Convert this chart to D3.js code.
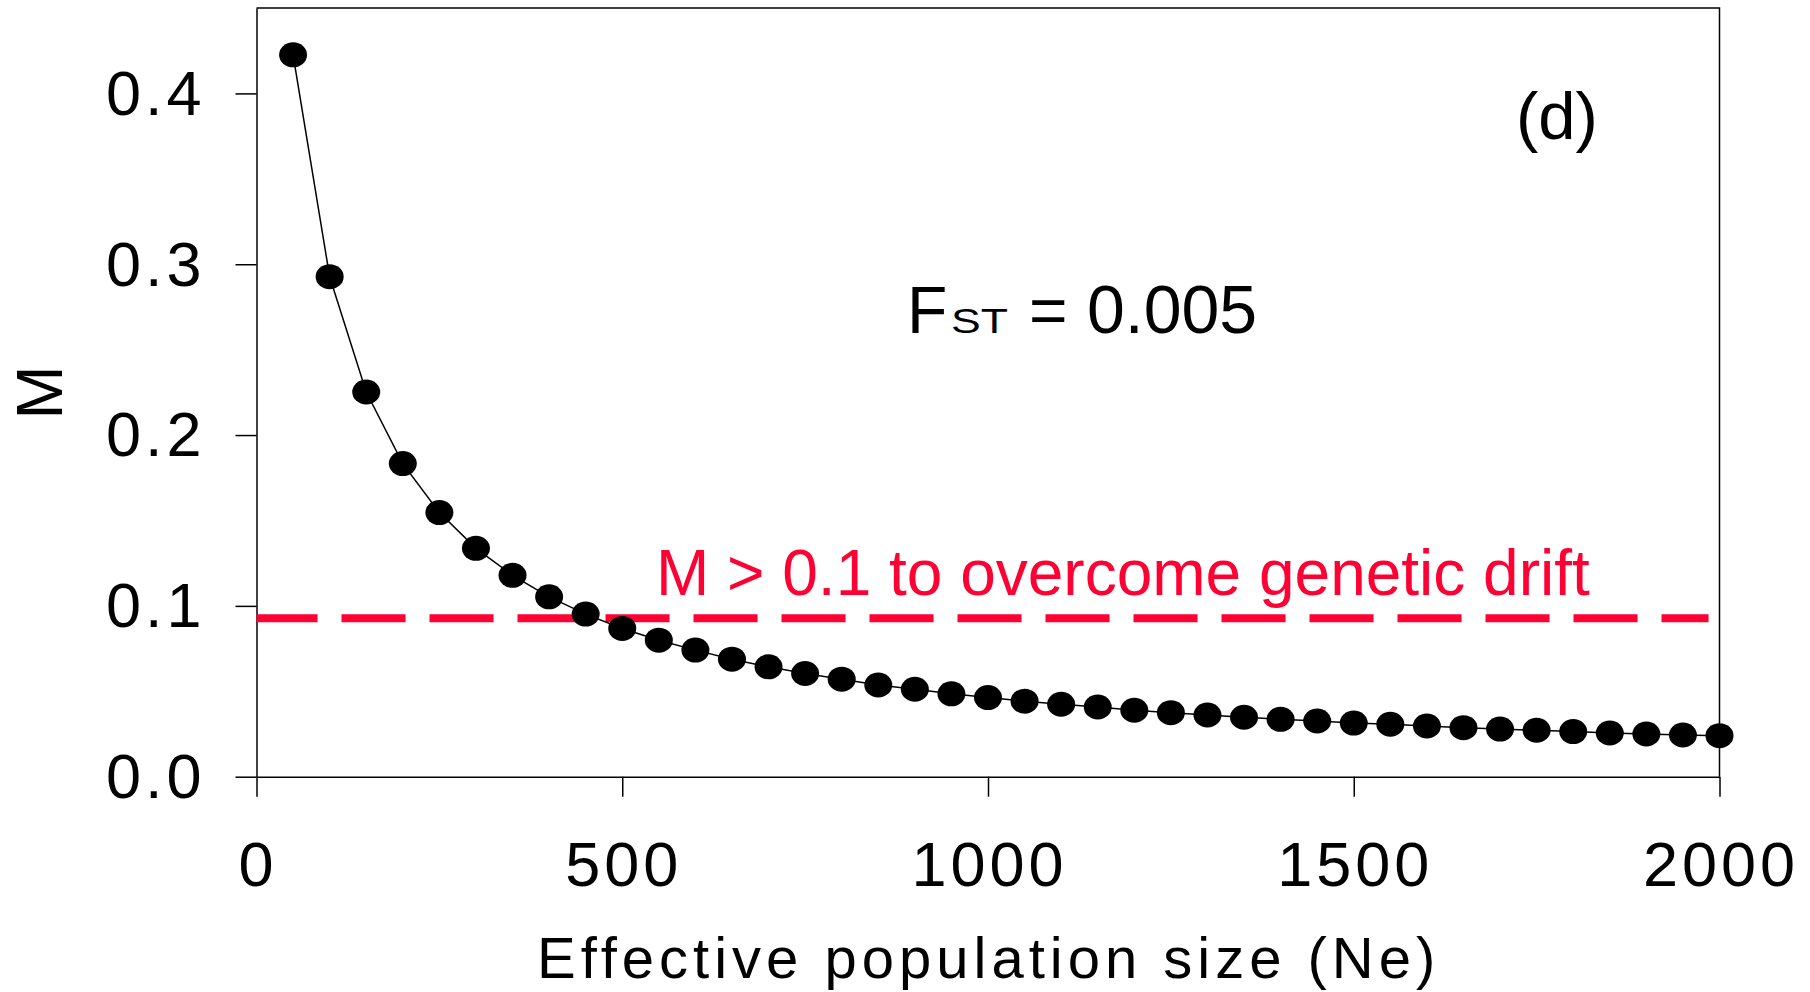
<!DOCTYPE html>
<html>
<head>
<meta charset="utf-8">
<script src="https://cdn.jsdelivr.net/npm/d3@7"></script>
<style>
  body { margin: 0; background: #fff; }
  text { font-family: "Liberation Sans", Arial, sans-serif; }
</style>
</head>
<body>
<div id="chart"></div>
<script>
// effective population size (x) and migration M (y)
var ne = [50, 100, 150, 200, 250, 300, 350, 400, 450, 500,
          550, 600, 650, 700, 750, 800, 850, 900, 950, 1000,
          1050, 1100, 1150, 1200, 1250, 1300, 1350, 1400, 1450, 1500,
          1550, 1600, 1650, 1700, 1750, 1800, 1850, 1900, 1950, 2000];
var m = [0.4226, 0.2927, 0.2252, 0.1833, 0.1546, 0.1337, 0.1179, 0.1053, 0.0952, 0.0868,
         0.0799, 0.0741, 0.0688, 0.0643, 0.0604, 0.0571, 0.0537, 0.0512, 0.0485, 0.0463,
         0.0442, 0.0424, 0.0408, 0.0389, 0.0375, 0.0361, 0.0348, 0.0336, 0.0326, 0.0314,
         0.0307, 0.0297, 0.0287, 0.0279, 0.0272, 0.0264, 0.0256, 0.0250, 0.0244, 0.0240];
var xTicks = [0, 500, 1000, 1500, 2000];
var yTicks = [0.0, 0.1, 0.2, 0.3, 0.4];
// drawn threshold line (as plotted) and its extent along x
var threshold = 0.0927;
var thresholdSpan = [0, 1985];

var drawGraph = function(){

    var red = "#ff0033";
    var width = 1810, height = 992;
    var left = 256.5, right = 1719.5, top = 8, bottom = 776.7;

    var svg = d3.select("#chart")
        .append("svg")
        .attr("width", width)
        .attr("height", height);

    var x = d3.scaleLinear().domain([0, 2000]).range([left, right]);
    var y = d3.scaleLinear().domain([0, 0.45]).range([bottom, top]);

    // frame: top and right edges
    svg.append("path")
        .attr("d", "M" + left + "," + top + "H" + right + "V" + bottom)
        .attr("fill", "none")
        .attr("stroke", "#000")
        .attr("stroke-width", 1.5);

    var yAxis = svg.append("g")
        .attr("transform", "translate(" + left + ",0)")
        .call(d3.axisLeft(y).tickValues(yTicks).tickFormat(d3.format(".1f"))
            .tickSize(21).tickSizeOuter(0).tickPadding(34));

    var xAxis = svg.append("g")
        .attr("transform", "translate(0," + bottom + ")")
        .call(d3.axisBottom(x).tickValues(xTicks).tickFormat(d3.format("d"))
            .tickSize(20).tickSizeOuter(0).tickPadding(45));

    [xAxis, yAxis].forEach(function(g){
        g.selectAll("path, line").attr("stroke", "#000").attr("stroke-width", 1.5);
        g.selectAll("text")
            .attr("fill", "#000")
            .style("font-size", "63px")
            .style("font-family", "'Liberation Sans', Arial, sans-serif")
            .style("letter-spacing", "4px");
    });
    yAxis.selectAll("text").attr("dy", "0.33em").attr("dx", "4px");
    xAxis.selectAll("text").attr("dx", "1px");

    // dashed threshold line
    svg.append("line")
        .attr("x1", x(thresholdSpan[0]))
        .attr("x2", x(thresholdSpan[1]))
        .attr("y1", y(threshold))
        .attr("y2", y(threshold))
        .attr("stroke", red)
        .attr("stroke-width", 8)
        .attr("stroke-dasharray", "64,24")
        .attr("stroke-dashoffset", 3);

    // curve
    var line = d3.line()
        .x(function(d, i){ return x(ne[i]); })
        .y(function(d){ return y(d); });

    svg.append("path")
        .datum(m)
        .attr("d", line)
        .attr("fill", "none")
        .attr("stroke", "#000")
        .attr("stroke-width", 1.5);

    svg.append("g").selectAll("ellipse")
        .data(m)
        .enter().append("ellipse")
        .attr("cx", function(d, i){ return x(ne[i]); })
        .attr("cy", function(d){ return y(d); })
        .attr("rx", 14)
        .attr("ry", 12.5)
        .attr("fill", "#000");

    // labels
    svg.append("text")
        .attr("x", 656).attr("y", 595)
        .attr("fill", red)
        .style("font-size", "64px")
        .text("M > 0.1 to overcome genetic drift");

    svg.append("text")
        .attr("x", 907).attr("y", 333)
        .style("font-size", "66px")
        .text("F");
    svg.append("text")
        .attr("x", 951).attr("y", 333)
        .style("font-size", "35px")
        .attr("textLength", 57)
        .attr("lengthAdjust", "spacingAndGlyphs")
        .text("ST");
    svg.append("text")
        .attr("x", 1029).attr("y", 333)
        .style("font-size", "66px")
        .text("=");
    svg.append("text")
        .attr("x", 1087).attr("y", 333)
        .style("font-size", "68px")
        .text("0.005");

    svg.append("text")
        .attr("x", 1516).attr("y", 139)
        .style("font-size", "67px")
        .text("(d)");

    svg.append("text")
        .attr("x", 537).attr("y", 978)
        .style("font-size", "58px")
        .style("letter-spacing", "5px")
        .text("Effective population size (Ne)");

    svg.append("text")
        .attr("transform", "translate(62,392.5) rotate(-90)")
        .attr("text-anchor", "middle")
        .style("font-size", "65px")
        .text("M");
}

drawGraph();
</script>
</body>
</html>
